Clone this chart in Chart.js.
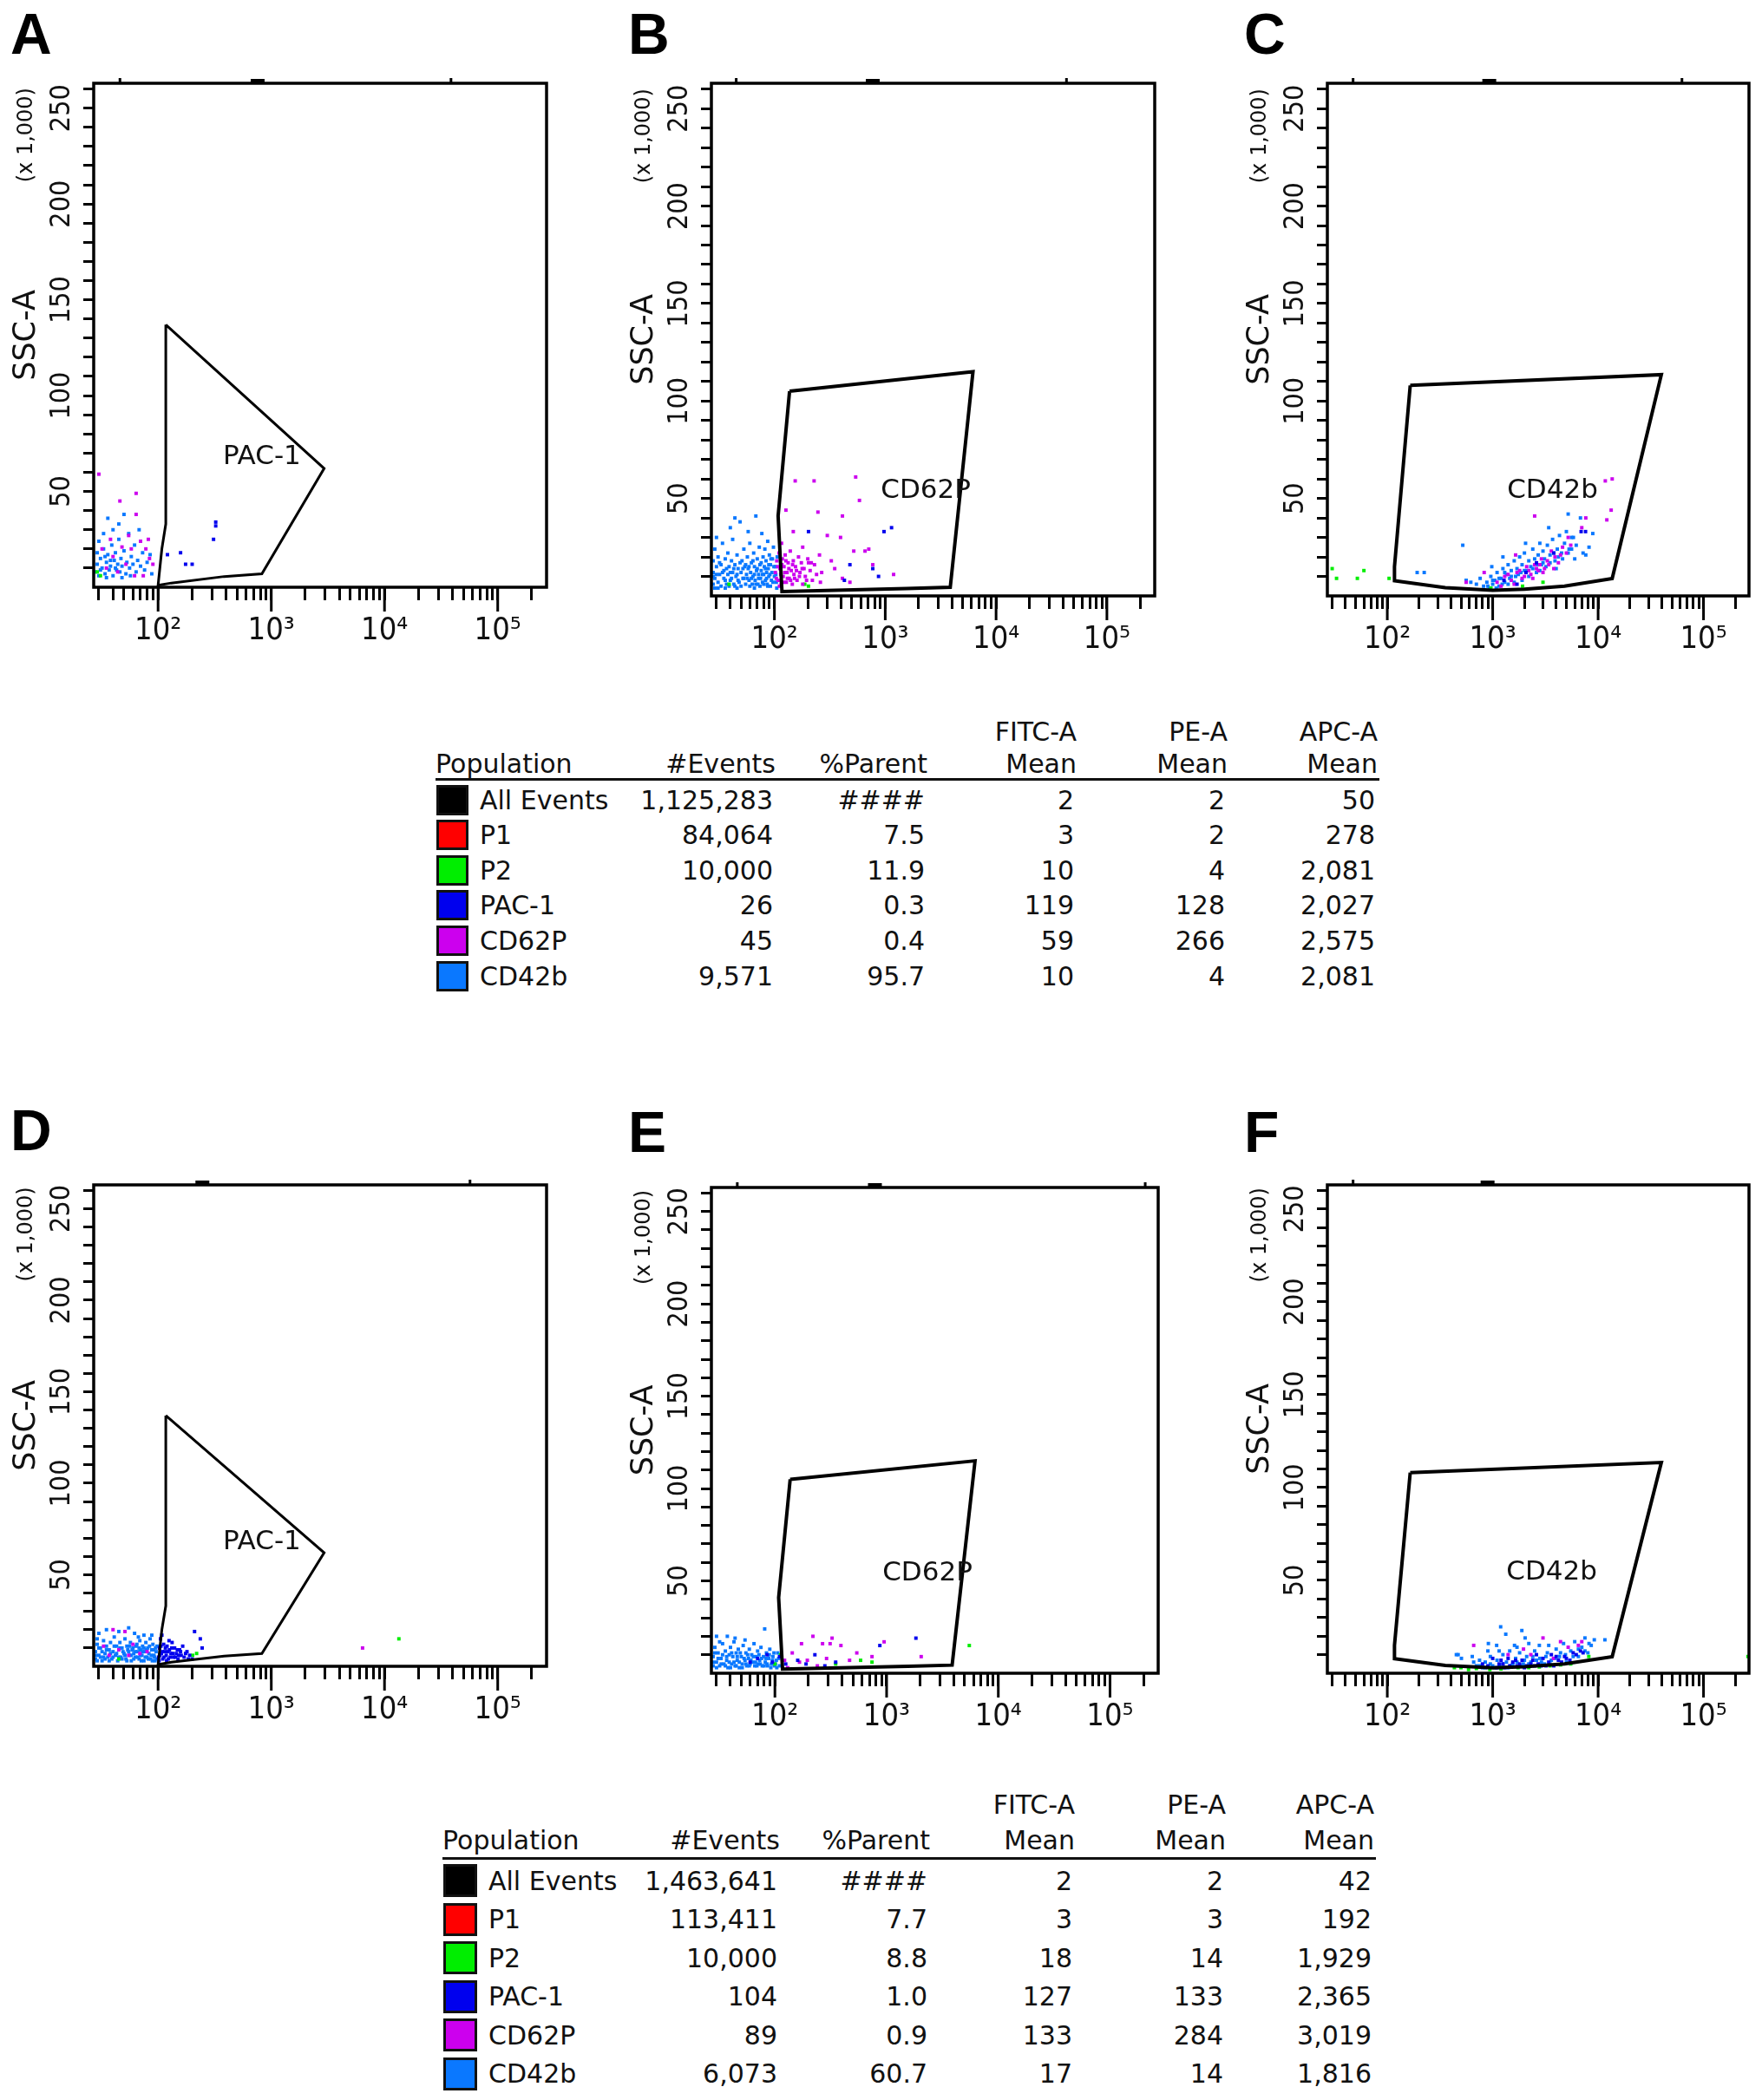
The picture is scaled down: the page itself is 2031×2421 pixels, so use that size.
<!DOCTYPE html>
<html>
<head>
<meta charset="utf-8">
<script src="https://cdn.jsdelivr.net/npm/chart.js@4.4.1/dist/chart.umd.min.js"></script>
<style>
body { margin: 0; background: #fff; width: 2031px; height: 2421px; position: relative; overflow: hidden; font-family: 'DejaVu Sans', sans-serif; }
.panel { position: absolute; }
.letter { position: absolute; font-family: 'Liberation Sans', Arial, sans-serif; font-weight: bold; font-size: 66px; line-height: 1; color: #000; }
.cell { position: absolute; white-space: nowrap; font-size: 30px; line-height: 1; color: #111; }
.right { text-align: right; width: 300px; }
.swatch { position: absolute; box-sizing: border-box; border: 3px solid #111; }
.rule { position: absolute; height: 3px; background: #111; }
</style>
</head>
<body>
<script>
// x axis (fluorescence, log) and y axis (SSC-A x 1,000)
const xTickValues = [30, 40, 50, 60, 70, 80, 90, 100, 200, 300, 400, 500, 600, 700, 800, 900,
    1000, 2000, 3000, 4000, 5000, 6000, 7000, 8000, 9000, 10000, 20000, 30000, 40000, 50000,
    60000, 70000, 80000, 90000, 100000, 200000];
const xMajor = [100, 1000, 10000, 100000];
const xMajorLabels = ['10²', '10³', '10⁴', '10⁵'];
const yTickValues = [10, 20, 30, 40, 50, 60, 70, 80, 90, 100, 110, 120, 130, 140, 150, 160, 170, 180, 190, 200, 210, 220, 230, 240, 250, 260];

// table
const populations = ['All Events', 'P1', 'P2', 'PAC-1', 'CD62P', 'CD42b'];
const popColors = ['#000000', '#ff0000', '#00ee00', '#0000ee', '#cc00ee', '#0a78ff'];
const events1 = ['1,125,283', '84,064', '10,000', '26', '45', '9,571'];
const parent1 = ['####', '7.5', '11.9', '0.3', '0.4', '95.7'];
const fitc1 = ['2', '3', '10', '119', '59', '10'];
const pe1 = ['2', '2', '4', '128', '266', '4'];
const apc1 = ['50', '278', '2,081', '2,027', '2,575', '2,081'];
const events2 = ['1,463,641', '113,411', '10,000', '104', '89', '6,073'];
const parent2 = ['####', '7.7', '8.8', '1.0', '0.9', '60.7'];
const fitc2 = ['2', '3', '18', '127', '133', '17'];
const pe2 = ['2', '3', '14', '133', '284', '14'];
const apc2 = ['42', '192', '1,929', '2,365', '3,019', '1,816'];

// gates [x, y]
const gatePac1 = [[117, 137], [2930, 62], [826, 7], [383, 5.6], [131, 2.2], [100, 1], [108, 20], [117, 33], [117, 137]];
const gateCd62p = [[137, 105], [6190, 115], [3860, 4.4], [1550, 3.8], [117, 2.2], [108, 41], [137, 105]];
const gateCd42b = [[165, 108], [39800, 113.5], [13600, 8.9], [4800, 5], [2000, 3.5], [1000, 2.9], [355, 4.2], [117, 7.8], [117, 15], [165, 108]];

// panel A events
const cd42bA = [[28,8],[29,12],[30,6],[31,15],[32,10],[33,20],[34,7],[35,13],[36,17],[37,9],[38,11],[39,22],[40,6],[41,14],[42,18],[43,9],[44,12],[45,25],[46,8],[47,15],[48,11],[50,19],[52,7],[53,13],[55,28],[56,10],[58,16],[60,12],[62,22],[64,8],[66,14],[68,30],[70,11],[73,18],[76,9],[80,13],[85,17],[88,7],[30,24],[33,28],[36,36],[40,30],[45,33],[50,38],[29,18],[31,9],[34,16],[38,14],[42,10],[35,5],[48,5],[57,6]];
const cd62pA = [[30,59],[64,49],[46,45],[64,38],[32,20],[35,10],[40,16],[44,8],[48,21],[52,12],[58,20],[62,6],[70,24],[78,20],[84,15],[90,12],[74,6],[55,27],[38,25],[82,25]];
const pac1A = [[121,17],[158,18],[175,12],[200,12],[309,25],[323,32],[323,34]];
const p2A = [[29,8],[31,6]];

// panel B events
const cd42bB = [[28,6],[28,12],[28,18],[29,9],[29,24],[30,15],[31,7],[31,20],[32,11],[33,5],[33,16],[34,27],[35,9],[35,13],[36,19],[37,6],[38,22],[38,11],[39,15],[40,8],[41,18],[42,12],[42,29],[43,6],[44,16],[45,10],[46,21],[47,14],[48,7],[49,38],[50,12],[51,18],[52,9],[53,24],[54,15],[55,6],[56,11],[57,20],[58,14],[59,8],[60,27],[61,12],[62,17],[63,6],[64,10],[65,22],[66,15],[67,8],[68,41],[69,13],[70,19],[71,6],[72,11],[73,25],[74,16],[75,9],[76,13],[77,32],[78,7],[79,20],[80,11],[81,15],[82,24],[83,8],[84,18],[85,12],[86,6],[87,28],[88,14],[89,10],[90,21],[92,16],[94,8],[95,12],[96,19],[98,25],[100,10],[102,15],[104,7],[106,20],[30,30],[40,35],[44,40],[58,33],[36,4],[46,4],[66,4],[92,5],
    [28,10],[29,4],[30,11],[31,4],[32,17],[34,12],[36,8],[37,14],[39,5],[40,12],[41,9],[43,14],[44,5],[46,11],[47,8],[49,17],[50,5],[52,14],[53,9],[55,16],[57,9],[59,15],[60,5],[62,9],[64,18],[66,11],[68,6],[70,14],[72,9],[74,5],[76,17],[78,11],[80,6],[83,14],[85,9],[87,5],[89,16],[91,11],[93,19],[97,7],[99,15],[103,11],[105,4]];
const cd62pB = [[102,12],[105,18],[108,8],[110,22],[112,14],[115,6],[118,19],[120,10],[122,15],[125,21],[128,7],[130,12],[133,17],[136,9],[139,23],[142,13],[145,6],[148,18],[150,11],[155,15],[160,8],[165,20],[170,12],[175,17],[180,6],[185,14],[190,10],[200,19],[210,13],[220,8],[230,16],[240,11],[255,21],[267,12],[203,17],[326,18],[411,9],[480,7],[520,23],[657,23],[710,24],[772,16],[300,31],[395,30],[148,33],[127,44],[247,43],[411,41],[154,59],[228,59],[541,61],[585,49],[1190,11],[116,27],[180,25],[350,14],[260,7],
    [104,9],[107,15],[111,5],[114,11],[117,16],[121,7],[124,12],[127,18],[131,9],[135,14],[140,8],[146,16],[152,9],[158,13],[168,10],[178,14],[195,8],[215,17]];
const pac1B = [[203,33],[975,33],[1140,35],[480,16],[772,14],[870,10],[428,8]];
const p2B = [[39,6],[188,6],[203,5]];

// panel C events
const cd42bC = [[520,26],[192,12],[224,12],[560,8],[620,7],[700,6],[760,9],[820,5],[880,7],[930,4],[960,10],[1000,6],[1050,8],[1100,12],[1150,5],[1200,9],[1250,14],[1300,7],[1350,11],[1400,16],[1450,9],[1500,13],[1600,18],[1650,10],[1700,14],[1800,20],[1850,12],[1900,16],[2000,22],[2100,13],[2200,18],[2300,15],[2400,24],[2500,19],[2600,12],[2700,21],[2800,27],[2900,16],[3000,23],[3100,19],[3300,26],[3500,21],[3700,29],[3900,18],[4100,24],[4300,31],[4500,22],[4800,27],[5000,33],[5300,24],[5600,30],[5830,30],[6200,26],[6800,40],[7200,22],[7640,21],[8200,25],[8900,32],[5200,42],[3400,35],[2050,27],[1250,20],[980,15],[4000,14],[6000,19],
    [900,5],[1000,8],[1080,4],[1150,9],[1230,6],[1300,12],[1400,6],[1500,10],[1600,7],[1750,11],[1900,8],[2000,13],[2200,10],[2400,14],[2600,16],[2800,13],[3000,17],[3200,15],[3500,17],[3800,22],[4200,20],[4600,19],[5200,22],[5600,24]];
const cd62pC = [[1300,10],[1500,8],[1700,12],[1900,9],[2100,15],[2300,11],[2500,16],[2700,13],[2900,19],[3100,14],[3300,18],[3600,23],[3900,20],[4200,17],[4600,25],[5000,22],[1100,7],[830,12],[560,7],[1650,21],[2500,41],[5200,30],[7640,40],[12100,39],[13300,44],[11700,59],[13600,60],[7000,35],
    [1200,5],[1400,11],[1600,6],[1800,13],[2000,10],[2200,13],[2400,9],[2600,14],[2800,16],[3000,12],[3400,16],[3800,14],[4400,21],[5500,26]];
const pac1C = [[1280,8],[2070,12],[2600,17],[3800,22],[1700,6],[6900,33],[7600,33]];
const p2C = [[30,14],[33,9],[52,9],[60,13],[104,9],[962,4],[1920,5],[3000,7]];

// panel D events
const cd42bD = [[28,4],[28,8],[29,12],[30,6],[31,10],[32,3],[33,14],[34,7],[35,11],[36,5],[37,9],[38,13],[39,4],[40,8],[41,16],[42,6],[43,11],[44,3],[45,9],[46,13],[47,5],[48,10],[50,7],[51,15],[52,4],[53,11],[55,8],[56,6],[57,13],[58,3],[60,10],[61,7],[62,18],[63,5],[65,12],[66,8],[68,4],[69,14],[70,9],[72,6],[73,11],[75,3],[76,8],[78,13],[80,5],[81,10],[83,7],[85,15],[86,4],[88,9],[90,12],[92,6],[94,3],[96,8],[98,11],[30,18],[35,20],[45,19],[55,21],[75,17],[29,15],[33,5],[67,16],[88,17],
    [28,6],[29,3],[30,10],[31,5],[32,8],[34,4],[35,9],[37,3],[38,7],[40,5],[41,11],[43,7],[45,5],[46,10],[48,4],[49,8],[51,6],[53,3],[54,9],[56,11],[58,6],[59,9],[61,4],[63,8],[64,11],[66,5],[68,10],[70,6],[71,3],[73,8],[75,10],[77,5],[79,9],[82,4],[84,11],[87,6],[89,3],[91,9],[93,5],[95,10],[97,4]];
const cd62pD = [[40,20],[51,19],[37,6],[55,6],[69,7],[6400,10],[45,9],[60,12],[80,8],[33,11]];
const pac1D = [[101,5],[103,10],[105,15],[107,7],[110,4],[112,12],[115,8],[118,6],[120,11],[123,4],[126,9],[130,7],[133,13],[137,5],[140,10],[145,7],[150,4],[155,9],[160,6],[165,11],[170,5],[180,8],[190,6],[200,4],[210,19],[236,15],[245,10],[108,17],[125,14],[102,3],
    [104,6],[106,11],[109,8],[113,5],[116,10],[119,3],[122,8],[128,5],[132,10],[135,7],[142,5],[148,9],[152,6],[158,8],[175,7],[185,4]];
const p2D = [[13400,15],[45,4],[219,7],[202,6]];

// panel E events
const cd42bE = [[28,4],[28,9],[29,14],[30,6],[30,20],[31,11],[32,4],[33,8],[34,16],[35,5],[36,12],[37,7],[37.5,20],[38,3],[39,10],[40,14],[41,5],[42,9],[43,17],[44,4],[45,11],[46,7],[47,13],[48,3],[50,9],[51,5],[52,15],[54,7],[55,11],[56,4],[58,8],[59,13],[60,5],[62,10],[63,6],[65,16],[66,4],[68,9],[70,12],[71,5],[73,7],[75,14],[77,4],[79,9],[81,24],[82,6],[84,11],[86,4],[88,8],[90,13],[93,5],[96,9],[99,4],[103,7],[106,11],[110,4],[32,17],[44,19],[54,18],
    [28,6],[29,11],[30,3],[31,8],[33,5],[34,10],[36,4],[37,9],[39,6],[40,3],[41,11],[43,6],[45,4],[46,9],[48,6],[49,11],[51,3],[53,8],[55,5],[57,10],[59,4],[61,7],[64,9],[67,6],[69,4],[72,10],[74,5],[76,8],[80,4],[83,8],[85,5],[89,10],[92,3],[95,7],[98,11],[101,5],[104,3],[108,8]];
const cd62pE = [[219,20],[325,19],[312,16],[267,16],[173,16],[390,15],[950,17],[2040,9],[541,11],[740,9],[143,11],[122,7],[166,6],[195,7],[290,8],[466,7],[240,4],[130,3]];
const pac1E = [[70,8],[60,6],[85,10],[95,6],[110,9],[125,5],[228,10],[350,6],[870,15],[1830,19],[160,7],[190,5],[280,4]];
const p2E = [[5500,15],[100,5],[585,7],[740,6],[350,5],[112,10]];

// panel F events
const cd42bF = [[452,10],[470,10],[505,8],[640,9],[660,6],[700,4],[750,7],[800,3],[850,6],[910,16],[950,9],[1000,4],[1090,15],[1100,7],[1190,25],[1200,3],[1250,10],[1330,21],[1350,6],[1450,12],[1500,4],[1610,15],[1650,8],[1800,11],[1890,23],[1950,5],[2030,19],[2100,9],[2300,6],[2500,12],[2770,15],[2800,8],[3100,5],[3300,11],[3600,7],[4000,13],[4300,9],[4700,16],[5000,6],[5500,12],[6000,17],[6500,9],[7000,14],[7500,19],[8000,11],[8600,15],[9200,18],[11600,18],[1150,12],[1700,14],[2200,16],[3400,15],[900,12],
    [750,4],[850,3],[950,5],[1050,3],[1150,4],[1250,5],[1400,3],[1550,5],[1700,6],[1850,4],[2000,7],[2200,5],[2400,9],[2600,7],[2900,6],[3200,9],[3500,5],[3900,8],[4400,11],[4900,10],[5800,9],[6500,13],[7500,12],[8200,16]];
const cd62pF = [[660,15],[3000,19],[4400,17],[1960,13],[5200,14],[3770,8],[6500,15],[1400,10],[2300,10],[7000,17]];
const pac1F = [[800,5],[900,4],[1000,8],[1150,5],[1300,3],[1400,8],[1550,6],[1700,4],[1900,7],[2100,4],[2400,7],[2700,5],[3000,8],[3400,6],[3800,4],[4200,7],[4800,9],[5400,7],[6200,10],[7200,11],[1200,7],[2600,10],[3600,10],
    [1100,3],[1250,5],[1450,4],[1650,7],[1800,5],[2000,3],[2300,5],[2500,4],[2900,4],[3200,4],[4000,9],[4500,6],[5000,8],[5800,11],[6800,12]];
const p2F = [[433,3],[500,3],[590,2],[700,2.5],[940,2],[1200,2.3],[1740,3],[2200,3],[2770,3.4],[3500,4],[4400,4.5],[5500,5],[8160,9],[264000,9]];

const narrow = "'Liberation Sans Narrow', 'DejaVu Sans Condensed', 'Liberation Sans', sans-serif";

const panels = [
    { letter: 'A', box: [108, 96, 630, 677], gate: gatePac1, gateW: 3, name: 'PAC-1', nameAt: [826, 68], sets: [pac1A, cd62pA, p2A, cd42bA], marks: [0.057, 0.788], thick: 0.362 },
    { letter: 'B', box: [820, 96, 1331, 687], gate: gateCd62p, gateW: 4, name: 'CD62P', nameAt: [2320, 54], sets: [pac1B, cd62pB, p2B, cd42bB], marks: [0.055, 0.80], thick: 0.364 },
    { letter: 'C', box: [1530, 96, 2016, 687], gate: gateCd42b, gateW: 4, name: 'CD42b', nameAt: [3690, 54], sets: [pac1C, cd62pC, p2C, cd42bC], marks: [0.06, 0.84], thick: 0.384 },
    { letter: 'D', box: [108, 1366, 630, 1921], gate: gatePac1, gateW: 3, name: 'PAC-1', nameAt: [826, 68], sets: [pac1D, cd62pD, p2D, cd42bD], marks: [0.83], thick: 0.24 },
    { letter: 'E', box: [820, 1369, 1335, 1929], gate: gateCd62p, gateW: 4, name: 'CD62P', nameAt: [2320, 54], sets: [pac1E, cd62pE, p2E, cd42bE], marks: [0.057, 0.97], thick: 0.366 },
    { letter: 'F', box: [1530, 1366, 2016, 1929], gate: gateCd42b, gateW: 4, name: 'CD42b', nameAt: [3630, 54], sets: [pac1F, cd62pF, p2F, cd42bF], marks: [0.06], thick: 0.38 }
];
const letterPos = { A: [12, 6], B: [724, 6], C: [1434, 6], D: [12, 1270], E: [724, 1272], F: [1434, 1272] };

const Y_W = 108, X_H = 80, PAD_T = 12, PAD_R = 12;

const panelDecor = {
    id: 'panelDecor',
    afterDatasetsDraw(chart, args, opts) {
        const { ctx, chartArea: a, scales: { x, y } } = chart;
        const w = a.right - a.left;
        ctx.save();
        ctx.strokeStyle = '#000';
        ctx.lineWidth = 3.5;
        ctx.strokeRect(a.left, a.top, w, a.bottom - a.top);
        // little marks sitting on the top border
        ctx.fillStyle = '#000';
        opts.marks.forEach(f => ctx.fillRect(a.left + f * w - 1, a.top - 6, 3, 6));
        ctx.fillRect(a.left + opts.thick * w - 8, a.top - 5, 16, 5);
        // decade ticks are longer
        ctx.lineWidth = 3;
        xMajor.forEach(v => {
            const px = x.getPixelForValue(v);
            ctx.beginPath();
            ctx.moveTo(px, a.bottom);
            ctx.lineTo(px, a.bottom + 28);
            ctx.stroke();
        });
        ctx.fillStyle = '#111';
        ctx.textAlign = 'center';
        ctx.textBaseline = 'middle';
        ctx.font = "31px 'DejaVu Sans', sans-serif";
        ctx.fillText(opts.name, x.getPixelForValue(opts.at[0]), y.getPixelForValue(opts.at[1]));
        ctx.translate(31, y.getPixelForValue(236));
        ctx.rotate(-Math.PI / 2);
        ctx.font = "24px 'DejaVu Sans', sans-serif";
        ctx.fillText('(x 1,000)', 0, 0);
        ctx.restore();
    }
};

function makePanel(p) {
    const [l, t, r, b] = p.box;
    const w = r - l + Y_W + PAD_R;
    const h = b - t + PAD_T + X_H;
    const div = document.createElement('div');
    div.className = 'panel';
    div.style.left = (l - Y_W) + 'px';
    div.style.top = (t - PAD_T) + 'px';
    const canvas = document.createElement('canvas');
    canvas.width = w;
    canvas.height = h;
    canvas.style.width = w + 'px';
    canvas.style.height = h + 'px';
    div.appendChild(canvas);
    document.body.appendChild(div);

    const lt = document.createElement('div');
    lt.className = 'letter';
    lt.textContent = p.letter;
    lt.style.left = letterPos[p.letter][0] + 'px';
    lt.style.top = letterPos[p.letter][1] + 'px';
    document.body.appendChild(lt);

    const dotColors = [popColors[3], popColors[4], popColors[2], popColors[5]];
    const datasets = [{
        data: p.gate.map(([x, y]) => ({ x, y })),
        showLine: true,
        borderColor: '#000',
        borderWidth: p.gateW,
        pointRadius: 0,
        fill: false,
        tension: 0
    }];
    p.sets.forEach((s, i) => {
        datasets.push({
            data: s.map(([x, y]) => ({ x, y })),
            pointStyle: 'rect',
            pointRadius: 2.8,
            borderWidth: 0,
            backgroundColor: dotColors[i],
            borderColor: dotColors[i]
        });
    });

    new Chart(canvas, {
        type: 'scatter',
        data: { datasets },
        plugins: [panelDecor],
        options: {
            responsive: false,
            animation: false,
            devicePixelRatio: 1,
            layout: { padding: { top: PAD_T, right: PAD_R, left: 0, bottom: 0 } },
            plugins: {
                legend: { display: false },
                tooltip: { enabled: false },
                panelDecor: { name: p.name, at: p.nameAt, marks: p.marks, thick: p.thick }
            },
            scales: {
                x: {
                    type: 'logarithmic',
                    min: 27,
                    max: 270000,
                    bounds: 'data',
                    afterBuildTicks: s => { s.ticks = xTickValues.map(v => ({ value: v })); },
                    afterFit: s => { s.height = X_H; s.paddingLeft = 0; s.paddingRight = 0; },
                    border: { display: false },
                    grid: { drawOnChartArea: false, drawTicks: true, tickLength: 15, tickWidth: 3, color: '#000' },
                    ticks: {
                        autoSkip: false,
                        maxRotation: 0,
                        padding: 14,
                        color: '#111',
                        font: { family: narrow, size: 36 },
                        callback: v => {
                            const k = xMajor.indexOf(v);
                            return k >= 0 ? xMajorLabels[k] : '';
                        }
                    }
                },
                y: {
                    type: 'linear',
                    min: 0,
                    max: 263,
                    afterBuildTicks: s => { s.ticks = yTickValues.map(v => ({ value: v })); },
                    afterFit: s => { s.width = Y_W; s.paddingTop = 0; s.paddingBottom = 0; },
                    border: { display: false },
                    grid: { drawOnChartArea: false, drawTicks: true, tickLength: 12, tickWidth: 3, color: '#000' },
                    title: { display: true, text: 'SSC-A', color: '#111', font: { family: "'DejaVu Sans', sans-serif", size: 35 }, padding: { top: 10, bottom: 0 } },
                    ticks: {
                        autoSkip: false,
                        minRotation: 90,
                        maxRotation: 90,
                        crossAlign: 'center',
                        padding: -3,
                        color: '#111',
                        font: { family: narrow, size: 32 },
                        callback: v => (v % 50 === 0 ? String(v) : '')
                    }
                }
            }
        }
    });
}

function addCell(text, x, cy, alignRight) {
    const d = document.createElement('div');
    d.className = 'cell' + (alignRight ? ' right' : '');
    d.textContent = text;
    d.style.left = (alignRight ? x - 300 : x) + 'px';
    d.style.top = (cy - 14.5) + 'px';
    document.body.appendChild(d);
}

function makeTable(t, cols) {
    const [events, parent, fitc, pe, apc] = cols;
    const c = t.colRight;
    addCell('FITC-A', c[2], t.head1, true);
    addCell('PE-A', c[3], t.head1, true);
    addCell('APC-A', c[4], t.head1, true);
    addCell('Population', t.left, t.head2, false);
    addCell('#Events', c[0], t.head2, true);
    addCell('%Parent', c[1], t.head2, true);
    addCell('Mean', c[2], t.head2, true);
    addCell('Mean', c[3], t.head2, true);
    addCell('Mean', c[4], t.head2, true);
    const rule = document.createElement('div');
    rule.className = 'rule';
    rule.style.left = t.left + 'px';
    rule.style.top = (t.rule - 1.5) + 'px';
    rule.style.width = (c[4] + 2 - t.left) + 'px';
    document.body.appendChild(rule);
    populations.forEach((name, i) => {
        const cy = t.row0 + i * t.rowStep;
        const sw = document.createElement('div');
        sw.className = 'swatch';
        sw.style.left = (t.left + 1) + 'px';
        sw.style.top = (cy - t.sw / 2) + 'px';
        sw.style.width = t.swW + 'px';
        sw.style.height = t.sw + 'px';
        sw.style.background = popColors[i];
        document.body.appendChild(sw);
        addCell(name, t.nameLeft, cy, false);
        addCell(events[i], c[0] - 3, cy, true);
        addCell(parent[i], c[1] - 3, cy, true);
        addCell(fitc[i], c[2] - 3, cy, true);
        addCell(pe[i], c[3] - 3, cy, true);
        addCell(apc[i], c[4] - 3, cy, true);
    });
}

panels.forEach(makePanel);
makeTable({ left: 502, nameLeft: 553, colRight: [894, 1069, 1241, 1415, 1588], head1: 843, head2: 880, rule: 898, row0: 922, rowStep: 40.6, sw: 35, swW: 37 },
    [events1, parent1, fitc1, pe1, apc1]);
makeTable({ left: 510, nameLeft: 563, colRight: [899, 1072, 1239, 1413, 1584], head1: 2080, head2: 2121, rule: 2142, row0: 2168, rowStep: 44.5, sw: 38, swW: 39 },
    [events2, parent2, fitc2, pe2, apc2]);
</script>
</body>
</html>
